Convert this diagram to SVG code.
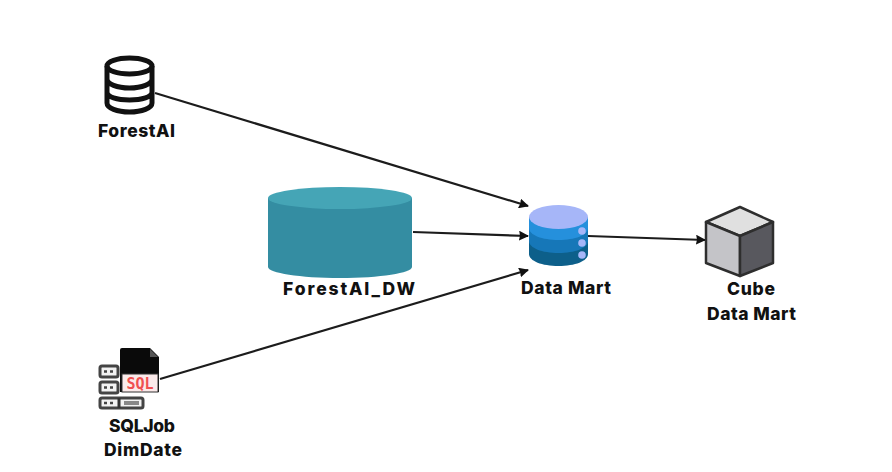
<svg xmlns="http://www.w3.org/2000/svg" width="892" height="472" viewBox="0 0 892 472">
<style>
.l{font-family:"Inter","Open Sans","Liberation Sans",sans-serif;font-weight:800;font-size:17.500px;fill:#111;text-anchor:middle}
.c{stroke:#1c1c1c;stroke-width:2.200;fill:none;marker-end:url(#a)}
.k{fill:none;stroke:#111;stroke-width:5}
.s{fill:#f2f2f2;stroke:#444;stroke-width:3}
.e{stroke:#2e2e2e;stroke-width:2.500;stroke-linejoin:round}
</style>
<defs>
<marker id="a" viewBox="0 0 10 10" refX="9" refY="5" markerWidth="10" markerHeight="10" orient="auto" markerUnits="userSpaceOnUse"><path d="M0 0L10 5L0 10L1 5Z" fill="#111"/></marker>
<clipPath id="dm"><path d="M529 217V254C529 261 542 266 558.500 266S588 261 588 254V217Z"/></clipPath>
</defs>
<rect width="892" height="472" fill="#fff"/>
<g id="connectors">
<path class="c" d="M155 93L528 206"/>
<path class="c" d="M413 232L528 236"/>
<path class="c" d="M160 379L528 270"/>
<path class="c" d="M588 236L705 240"/>
</g>
<g id="forestai">
<ellipse class="k" cx="129.500" cy="66" rx="22.500" ry="8"/>
<path class="k" d="M107 66V103C107 108 117 112 129.500 112S152 108 152 103V66M107 79C107 84 117 88 129.500 88S152 84 152 79M107 92C107 97 117 100 129.500 100S152 97 152 92"/>
<text class="l" x="136.500" y="137" textLength="77">ForestAI</text>
</g>
<g id="forestai-dw">
<path d="M268 198V267C268 273 300 278 340 278S412 273 412 267V198Z" fill="#348da2"/>
<ellipse cx="340" cy="198" rx="72" ry="11" fill="#45a5b6"/>
<text class="l" x="349" y="295" textLength="132">ForestAI_DW</text>
</g>
<g id="sqljob">
<path d="M120 350Q120 348 122 348H150L159 357V392H120Z" fill="#0a0a0a"/>
<path d="M150 349L158 357H150Z" fill="#555"/>
<rect x="122" y="374" width="36" height="18" fill="#fbeaea" stroke="#333"/>
<text x="140" y="389" font-family="'DejaVu Sans Mono','Liberation Mono',monospace" font-weight="700" font-size="15" fill="#f05050" text-anchor="middle">SQL</text>
<rect class="s" x="100" y="366" width="18" height="11" rx="2"/>
<rect class="s" x="100" y="382" width="18" height="11" rx="2"/>
<rect class="s" x="100" y="398" width="43" height="10" rx="2"/>
<path d="M104 371.500h3M110 371.500h3M104 387.500h3M110 387.500h3M104 403h3M110 403h3" stroke="#444" stroke-width="2.500"/>
<path d="M119 398v10" stroke="#333" stroke-width="3"/>
<rect x="124" y="401" width="15" height="4" fill="#888"/>
<text class="l" x="142" y="432" textLength="66">SQLJob</text>
<text class="l" x="143" y="456" textLength="78">DimDate</text>
</g>
<g id="data-mart">
<g clip-path="url(#dm)">
<rect x="529" y="217" width="59" height="49" fill="#0d5f8a"/>
<path d="M529 217H588V241C588 248 575 253 558.500 253S529 248 529 241Z" fill="#1677b8"/>
<path d="M529 217H588V228C588 235 575 240 558.500 240S529 235 529 228Z" fill="#2590dc"/>
</g>
<ellipse cx="558.500" cy="217" rx="29.500" ry="12" fill="#a6b6f8"/>
<circle cx="582" cy="231" r="3.800" fill="#a6b6f8"/>
<circle cx="582" cy="243" r="3.800" fill="#a6b6f8"/>
<circle cx="582" cy="255" r="3.800" fill="#a6b6f8"/>
<text class="l" x="566" y="294" textLength="90">Data Mart</text>
</g>
<g id="cube">
<path class="e" d="M740 207L773 222L740 236L706 222Z" fill="#e0e0e0"/>
<path class="e" d="M706 222L740 236V276L706 263Z" fill="#c4c4c8"/>
<path class="e" d="M773 222V263L740 276V236Z" fill="#58585e"/>
<text class="l" x="751" y="295" textLength="48">Cube</text>
<text class="l" x="751.500" y="320" textLength="89">Data Mart</text>
</g>
</svg>
